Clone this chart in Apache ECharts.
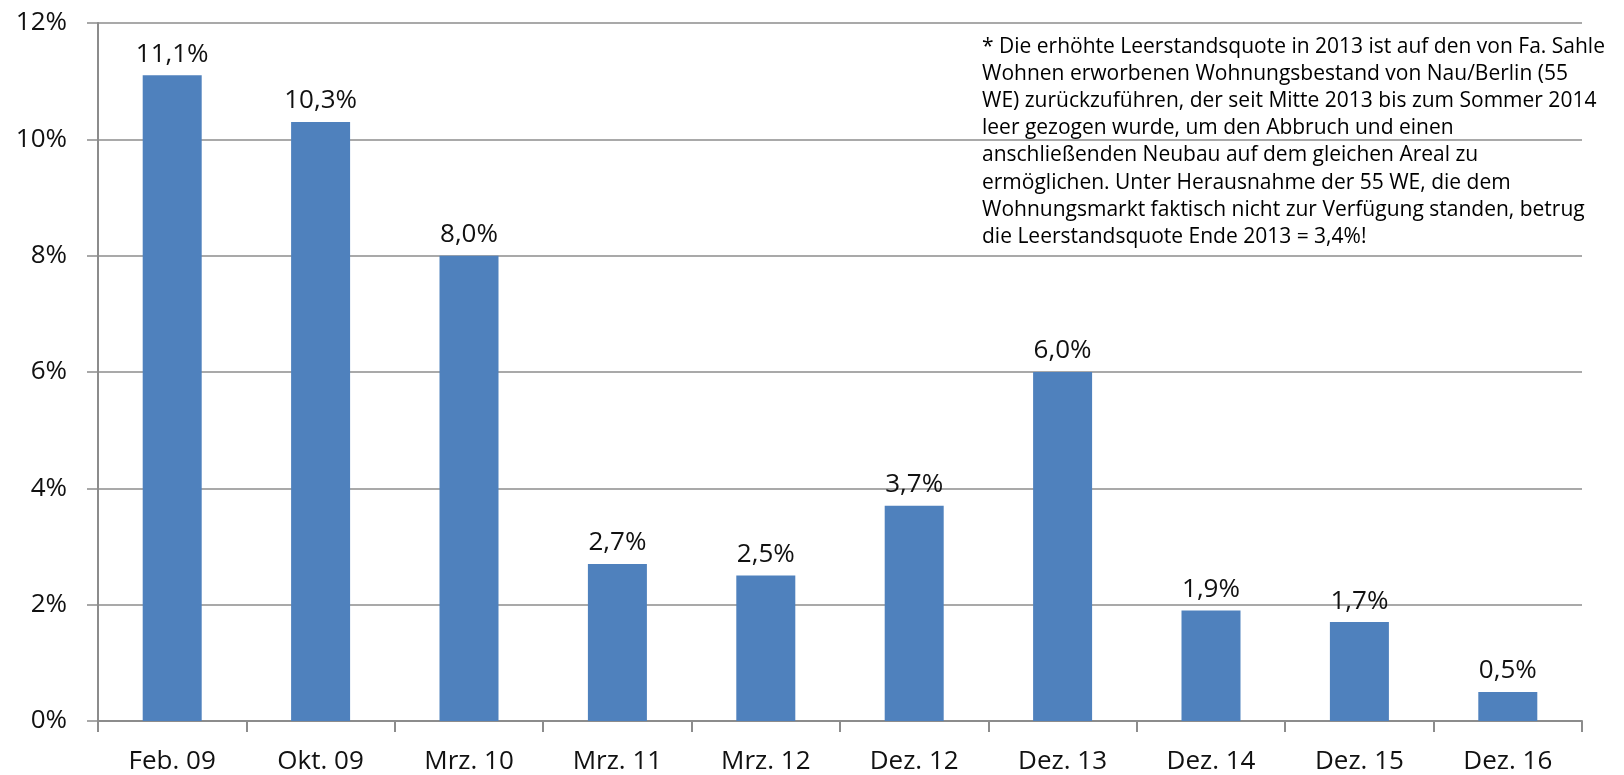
<!DOCTYPE html>
<html>
<head>
<meta charset="utf-8">
<script src="https://cdn.jsdelivr.net/npm/echarts@6/dist/echarts.min.js"></script>
<style>
html,body{margin:0;padding:0;background:#fff;}
#chart{width:1624px;height:775px;}
</style>
</head>
<body>
<div id="chart"></div>
<script>
const categories = ['Feb. 09','Okt. 09','Mrz. 10','Mrz. 11','Mrz. 12','Dez. 12','Dez. 13','Dez. 14','Dez. 15','Dez. 16'];
const values = [11.1, 10.3, 8.0, 2.7, 2.5, 3.7, 6.0, 1.9, 1.7, 0.5];
const yTicks = [0, 2, 4, 6, 8, 10, 12];
const noteLines = [
  '* Die erhöhte Leerstandsquote in 2013 ist auf den von Fa. Sahle',
  'Wohnen erworbenen Wohnungsbestand von Nau/Berlin (55',
  'WE) zurückzuführen, der seit Mitte 2013 bis zum Sommer 2014',
  'leer gezogen wurde, um den Abbruch und einen',
  'anschließenden Neubau auf dem gleichen Areal zu',
  'ermöglichen. Unter Herausnahme der 55 WE, die dem',
  'Wohnungsmarkt faktisch nicht zur Verfügung standen, betrug',
  'die Leerstandsquote Ende 2013 = 3,4%!'
];

const FONT = 'Open Sans';
const chart = echarts.init(document.getElementById('chart'));
chart.setOption({
  animation: false,
  backgroundColor: '#ffffff',
  textStyle: { fontFamily: FONT },
  grid: { left: 98, right: 42, top: 23, bottom: 53, containLabel: false },
  xAxis: {
    type: 'category',
    data: categories,
    boundaryGap: true,
    axisLine: { show: true, lineStyle: { color: '#8c8c8c', width: 2 } },
    axisTick: { show: true, length: 11, alignWithLabel: false, lineStyle: { color: '#8c8c8c', width: 2 } },
    axisLabel: { fontFamily: FONT, fontSize: 26, color: '#111111', margin: 28 }
  },
  yAxis: {
    type: 'value',
    min: yTicks[0],
    max: yTicks[yTicks.length - 1],
    interval: 2,
    axisLine: { show: true, lineStyle: { color: '#8c8c8c', width: 2 } },
    axisTick: { show: true, length: 11, lineStyle: { color: '#8c8c8c', width: 1.5 } },
    splitLine: { show: true, lineStyle: { color: '#8c8c8c', width: 1.5 } },
    axisLabel: { fontFamily: FONT, fontSize: 26, color: '#111111', margin: 31, formatter: v => v + '%' }
  },
  series: [{
    type: 'bar',
    data: values,
    barWidth: 59,
    itemStyle: { color: '#4f81bd' },
    label: {
      show: true,
      position: 'top',
      distance: 8,
      fontFamily: FONT,
      fontSize: 26,
      color: '#111111',
      formatter: p => p.value.toFixed(1).replace('.', ',') + '%'
    }
  }],
  graphic: [{
    type: 'text',
    left: 982,
    top: 33,
    z: 10,
    style: {
      text: noteLines.join('\n'),
      fontFamily: FONT,
      fontSize: 21,
      lineHeight: 27.2,
      fill: '#000000'
    }
  }]
});
</script>
</body>
</html>
